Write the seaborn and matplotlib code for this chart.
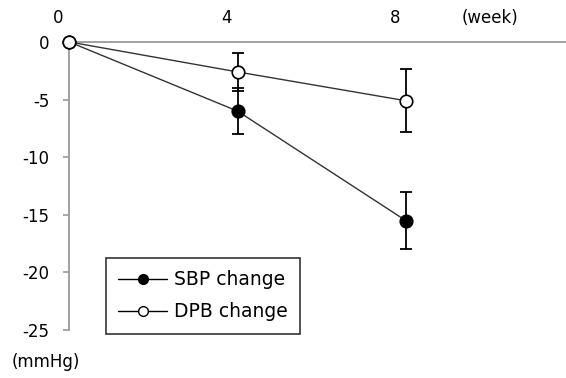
import matplotlib
matplotlib.use("Agg")
import matplotlib.pyplot as plt
import matplotlib.transforms as mtransforms
from matplotlib.lines import Line2D
import pandas as pd
import seaborn as sns

weeks = [0, 4, 8]
sbp_mean = [0, -6.0, -15.5]
sbp_err = [0, 2.0, 2.5]
dbp_mean = [0, -2.6, -5.1]
dbp_err = [0, 1.65, 2.75]
y_ticks = [0, -5, -10, -15, -20, -25]

sns.set_style("white")
plt.rcParams["font.family"] = ["DejaVu Sans"]
plt.rcParams["axes.unicode_minus"] = False
plt.rcParams["text.color"] = "black"
plt.rcParams["xtick.color"] = "black"
plt.rcParams["ytick.color"] = "black"

df = pd.DataFrame({"week": weeks, "sbp": sbp_mean, "dbp": dbp_mean})

fig = plt.figure(figsize=(5.66, 3.78), dpi=100)
ax = fig.add_axes([0.1224, 0.127, 0.8776, 0.762])

# error bars first so markers sit on top
ax.errorbar(weeks[1:], sbp_mean[1:], yerr=sbp_err[1:], fmt="none", ecolor="black",
            elinewidth=1.3, capsize=4.5, capthick=1.3, zorder=2, clip_on=False)
ax.errorbar(weeks[1:], dbp_mean[1:], yerr=dbp_err[1:], fmt="none", ecolor="black",
            elinewidth=1.3, capsize=4.5, capthick=1.3, zorder=2, clip_on=False)

sns.lineplot(data=df, x="week", y="sbp", ax=ax, color="#333333", linewidth=1.0,
             marker="o", markersize=9, markerfacecolor="black", markeredgecolor="black",
             markeredgewidth=1.2, zorder=3, clip_on=False)
sns.lineplot(data=df, x="week", y="dbp", ax=ax, color="#333333", linewidth=1.0,
             marker="o", markersize=9, markerfacecolor="white", markeredgecolor="black",
             markeredgewidth=1.2, zorder=4, clip_on=False)

ax.set_xlim(0, 11.81)
ax.set_ylim(-25, 0)
ax.set_xlabel("")
ax.set_ylabel("")

# x axis on top, no ticks drawn
ax.xaxis.tick_top()
ax.set_xticks(weeks)
ax.set_xticklabels([str(w) for w in weeks], fontsize=12)
ax.tick_params(axis="x", length=0, pad=11)
shift = mtransforms.ScaledTranslation(-11 / 100, 0, fig.dpi_scale_trans)
for lab in ax.get_xticklabels():
    lab.set_transform(lab.get_transform() + shift)

ax.set_yticks(y_ticks)
ax.set_yticklabels([str(v) for v in y_ticks], fontsize=12)
ax.tick_params(axis="y", left=True, length=4.5, width=1.2, color="#999999", pad=10)

for s in ["right", "bottom"]:
    ax.spines[s].set_visible(False)
for s in ["left", "top"]:
    ax.spines[s].set_color("#999999")
    ax.spines[s].set_linewidth(1.3)

fig.text(490 / 566, 1 - 18 / 378, "(week)", ha="center", va="center", fontsize=12)
fig.text(46 / 566, 1 - 362 / 378, "(mmHg)", ha="center", va="center", fontsize=12)

handles = [
    Line2D([], [], color="black", linewidth=1.0, marker="o", markersize=7,
           markerfacecolor="black", markeredgecolor="black"),
    Line2D([], [], color="black", linewidth=1.0, marker="o", markersize=7,
           markerfacecolor="white", markeredgecolor="black"),
]
leg = ax.legend(handles, ["SBP change", "DPB change"], loc="upper left",
                bbox_to_anchor=(106 / 566, 1 - 258 / 378), bbox_transform=fig.transFigure,
                fontsize=13.5, frameon=True, fancybox=False, borderaxespad=0,
                handlelength=2.6, handletextpad=0.4, labelspacing=0.7,
                borderpad=0.65, edgecolor="black")
leg.get_frame().set_linewidth(1.2)

fig.savefig("out.png", dpi=100)
